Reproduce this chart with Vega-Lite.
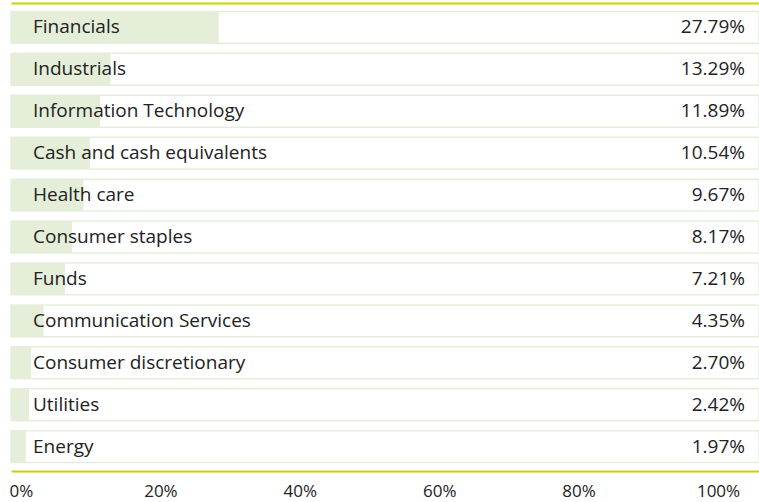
{
  "$schema": "https://vega.github.io/schema/vega-lite/v6.json",
  "autosize": {"type": "none"},
  "width": 748,
  "height": 468,
  "padding": {"left": 11, "top": 3, "right": 0, "bottom": 31},
  "background": "white",
  "config": {
    "view": {"stroke": null},
    "font": "Open Sans",
    "axis": {"grid": false}
  },
  "data": {
    "values": [
      {"sector": "Financials", "weight": 0.2779},
      {"sector": "Industrials", "weight": 0.1329},
      {"sector": "Information Technology", "weight": 0.1189},
      {"sector": "Cash and cash equivalents", "weight": 0.1054},
      {"sector": "Health care", "weight": 0.0967},
      {"sector": "Consumer staples", "weight": 0.0817},
      {"sector": "Funds", "weight": 0.0721},
      {"sector": "Communication Services", "weight": 0.0435},
      {"sector": "Consumer discretionary", "weight": 0.027},
      {"sector": "Utilities", "weight": 0.0242},
      {"sector": "Energy", "weight": 0.0197}
    ]
  },
  "encoding": {
    "y": {
      "field": "sector",
      "type": "nominal",
      "sort": null,
      "axis": null,
      "scale": {"paddingInner": 0.24, "paddingOuter": 0.2}
    }
  },
  "resolve": {"scale": {"x": "independent"}, "axis": {"x": "independent"}},
  "layer": [
    {
      "resolve": {"axis": {"x": "independent"}},
      "layer": [
        {
          "mark": {"type": "bar", "fill": "white", "stroke": "#e6eedb", "strokeWidth": 1.5},
          "encoding": {
            "x": {
              "datum": 1,
              "type": "quantitative",
              "scale": {"domain": [0, 1], "nice": false, "zero": true},
              "axis": {
                "orient": "top",
                "labels": false,
                "ticks": false,
                "title": null,
                "domain": true,
                "domainColor": "#c4d600",
                "domainWidth": 2
              }
            }
          }
        },
        {
          "mark": {"type": "bar", "fill": "#e5eed9"},
          "encoding": {
            "x": {"field": "weight", "type": "quantitative", "axis": null}
          }
        },
        {
          "mark": {"type": "text", "align": "left", "baseline": "middle", "dx": 22, "fontSize": 19, "font": "Open Sans", "color": "#222222"},
          "encoding": {
            "x": {"datum": 0, "type": "quantitative", "axis": null},
            "text": {"field": "sector", "type": "nominal"}
          }
        },
        {
          "mark": {"type": "text", "align": "right", "baseline": "middle", "dx": -14, "fontSize": 19, "font": "Open Sans", "color": "#222222"},
          "encoding": {
            "x": {"datum": 1, "type": "quantitative", "axis": null},
            "text": {"field": "weight", "type": "quantitative", "format": ".2%"}
          }
        }
      ]
    },
    {
      "mark": {"type": "point", "opacity": 0},
      "encoding": {
        "x": {
          "field": "weight",
          "type": "quantitative",
          "scale": {"domain": [-0.01435, 1.0588], "nice": false, "zero": false},
          "axis": {
            "orient": "bottom",
            "values": [0, 0.2, 0.4, 0.6, 0.8, 1],
            "format": ".0%",
            "title": null,
            "ticks": false,
            "tickSize": 0,
            "domain": true,
            "domainColor": "#c4d600",
            "domainWidth": 2,
            "labelFont": "Open Sans",
            "labelFontSize": 17,
            "labelColor": "#222222",
            "labelPadding": 12,
            "labelAlign": "center",
            "labelFlush": false,
            "labelBound": false,
            "labelOverlap": false
          }
        }
      }
    }
  ]
}
